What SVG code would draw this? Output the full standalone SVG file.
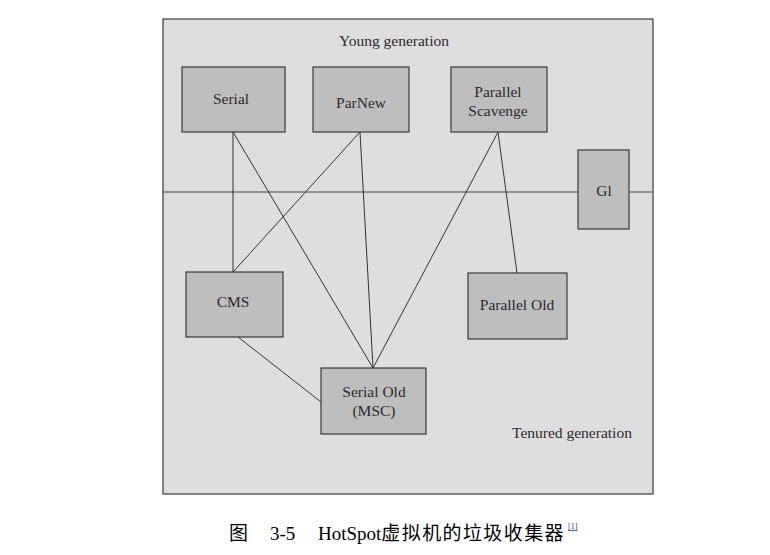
<svg xmlns="http://www.w3.org/2000/svg" width="770" height="555" viewBox="0 0 770 555">
<style>
.box{fill:#bebebe;stroke:#3a3a3a;stroke-width:1.2}
.t{font-family:"Liberation Serif",serif;font-size:15.5px;fill:#2a2a2a;text-anchor:middle}
.c{stroke:#333;stroke-width:1;fill:none}
.cap{font-family:"Liberation Serif","Noto Sans CJK SC",serif;font-size:19px;fill:#000}
</style>
<rect width="770" height="555" fill="#fff"/>
<g id="frame">
<rect x="163" y="19" width="490" height="475" fill="#dedede" stroke="#3a3a3a" stroke-width="1.2"/>
<line x1="163" y1="192" x2="652" y2="192" stroke="#444" stroke-width="1"/>
<text class="t" x="394" y="46">Young generation</text>
<text class="t" x="572" y="438">Tenured generation</text>
</g>
<g id="connectors">
<line class="c" x1="233" y1="132" x2="233" y2="272"/>
<line class="c" x1="233" y1="132" x2="373" y2="368"/>
<line class="c" x1="360" y1="132" x2="233" y2="272"/>
<line class="c" x1="360" y1="132" x2="373" y2="368"/>
<line class="c" x1="498" y1="132" x2="373" y2="368"/>
<line class="c" x1="498" y1="132" x2="517" y2="273"/>
<line class="c" x1="238" y1="337" x2="321" y2="402"/>
</g>
<g id="serial"><rect class="box" x="182" y="67" width="103" height="65"/><text class="t" x="231" y="104">Serial</text></g>
<g id="parnew"><rect class="box" x="313" y="67" width="96" height="65"/><text class="t" x="361" y="108">ParNew</text></g>
<g id="parallel-scavenge"><rect class="box" x="451" y="67" width="96" height="65"/><text class="t" x="498" y="97">Parallel</text><text class="t" x="498" y="116">Scavenge</text></g>
<g id="g1"><rect class="box" x="578" y="150" width="51" height="79"/><text class="t" x="604" y="196">Gl</text></g>
<g id="cms"><rect class="box" x="186" y="272" width="97" height="65"/><text class="t" x="233" y="307">CMS</text></g>
<g id="parallel-old"><rect class="box" x="468" y="273" width="99" height="66"/><text class="t" x="517" y="310">Parallel Old</text></g>
<g id="serial-old"><rect class="box" x="321" y="368" width="105" height="66"/><text class="t" x="374" y="397">Serial Old</text><text class="t" x="374" y="416">(MSC)</text></g>
<g id="caption">
<text class="cap" x="229" y="540">图</text>
<text class="cap" x="270" y="540">3-5</text>
<text class="cap" x="318" y="540">HotSpot<tspan letter-spacing="1.4">虚拟机的垃圾收集器</tspan></text>
<text x="568" y="529" font-family="Liberation Serif,serif" font-size="8" fill="#2040c0" text-decoration="underline">[1]</text>
</g>
</svg>
